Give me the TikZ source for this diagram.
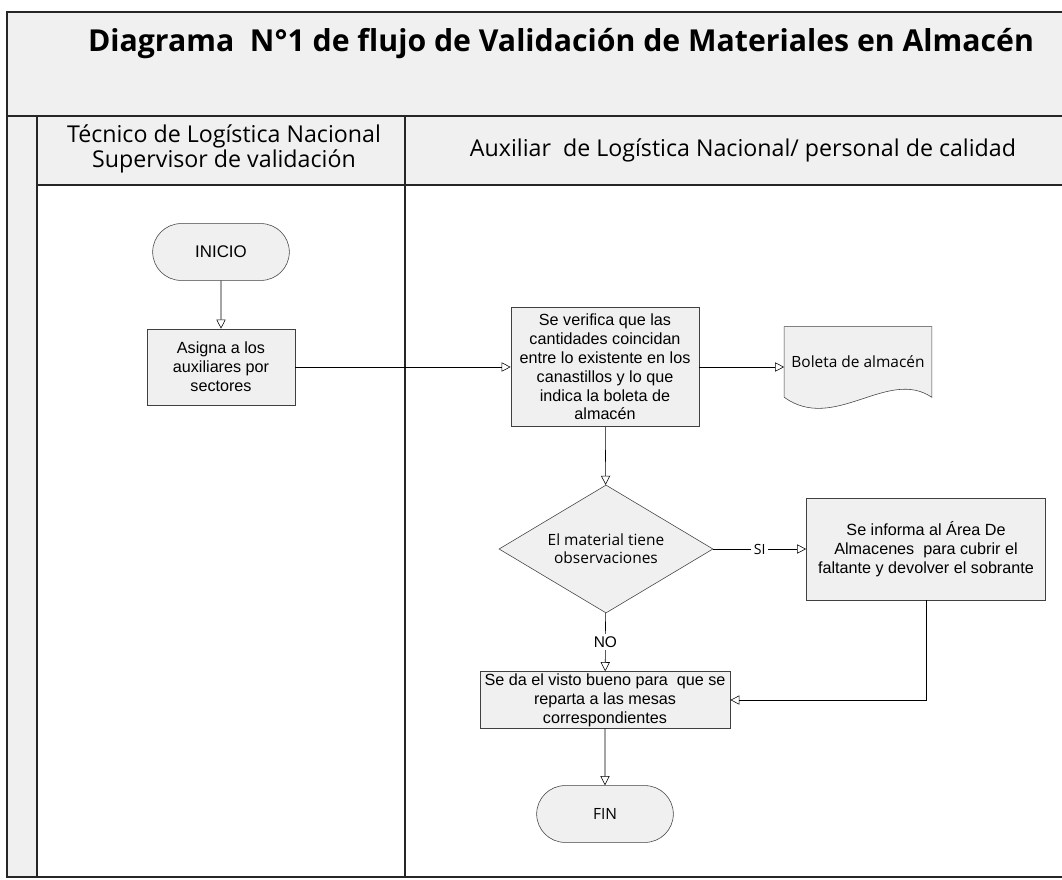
\documentclass[tikz,border=0pt]{standalone}
\usepackage{fontspec}
\setmainfont{Open Sans}
\newfontfamily\arialfont{Liberation Sans}
\usetikzlibrary{shapes.geometric,shapes.misc,arrows.meta,backgrounds}

\begin{document}
\begin{tikzpicture}[x=0.025cm, y=-0.025cm, >={Triangle[open,length=6.5pt,width=6.5pt]},
  lane/.style={draw=black!85, line width=0.8pt},
  proc/.style={draw=black!75, fill=black!6, rectangle, align=center, inner sep=1pt,
    font=\arialfont\fontsize{11.5}{13.4}\selectfont},
  term/.style={draw=black!75, fill=black!6, rounded rectangle,
    minimum width=3.65cm, minimum height=1.42cm},
  dec/.style={draw=black!75, fill=black!6, diamond, aspect=1.7, inner sep=0pt, align=center,
    minimum width=5.35cm, minimum height=3.2cm, font=\fontsize{11}{13}\selectfont},
  lbl/.style={fill=white, inner sep=2pt}]
\useasboundingbox (0,0) rectangle (1062,879);

\fill[black!6] (7,12) rectangle (1062,185);
\fill[black!6] (7,185) rectangle (37,877);
\draw[lane] (1062,12) -- (7,12) -- (7,877) -- (1062,877);
\draw[lane] (7,116) -- (1062,116);
\draw[lane] (37,185) -- (1062,185);
\draw[lane] (37,116) -- (37,877);
\draw[lane] (405,116) -- (405,877);

\node[font=\bfseries\fontsize{21.5}{26}\selectfont] (titulo) at (561,44)
  {Diagrama\ \ N°1 de flujo de Validación de Materiales en Almacén};
\node[font=\fontsize{16.5}{18}\selectfont, align=center] (carril1) at (224,149)
  {Técnico de Logística Nacional\\ Supervisor de validación};
\node[font=\fontsize{16.5}{18}\selectfont] (carril2) at (743,150)
  {Auxiliar\ \ de Logística Nacional/ personal de calidad};

\node[term, font=\arialfont\fontsize{12}{14}\selectfont] (inicio) at (221,252) {INICIO};
\node[proc, minimum width=3.7cm, minimum height=1.9cm] (asigna) at (221,367)
  {Asigna a los\\ auxiliares por\\ sectores};
\node[proc, minimum width=4.7cm, minimum height=2.975cm] (verifica) at (605,367)
  {Se verifica que las\\ cantidades coincidan\\ entre lo existente en los\\ canastillos y lo que\\ indica la boleta de\\ almacén};
\node[minimum width=3.675cm, minimum height=1.75cm, font=\fontsize{11}{13}\selectfont] (boleta) at (858,362)
  {Boleta de almacén};
\begin{scope}[on background layer]
\draw[draw=black!75, fill=black!6] (boleta.north west) -- (boleta.north east) -- (boleta.south east)
  .. controls +(-44,-30) and +(50,36) .. (boleta.south west) -- cycle;
\end{scope}

\node[dec] (decision) at (606,549) {El material tiene\\ observaciones};
\node[proc, minimum width=5.975cm, minimum height=2.55cm] (informa) at (926,549)
  {Se informa al Área De\\ Almacenes\ \ para cubrir el\\ faltante y devolver el sobrante};
\node[proc, minimum width=6.25cm, minimum height=1.42cm] (seda) at (605,700)
  {Se da el visto bueno para\ \ que se\\ reparta a las mesas\\ correspondientes};
\node[term, font=\fontsize{11}{13}\selectfont] (fin) at (605,814) {FIN};

\draw[->] (inicio) -- (asigna);
\draw[->] (asigna) -- (verifica);
\draw[->] (verifica.east) -- (verifica.east -| boleta.west);
\draw[->] (verifica) -- (decision);
\draw[->] (decision) -- node[lbl] {SI} (informa);
\draw[->] (decision) -- node[lbl, font=\arialfont\fontsize{11}{13}\selectfont] {NO} (seda);
\draw[->] (informa) |- (seda);
\draw[->] (seda) -- (fin);
\end{tikzpicture}
\end{document}
